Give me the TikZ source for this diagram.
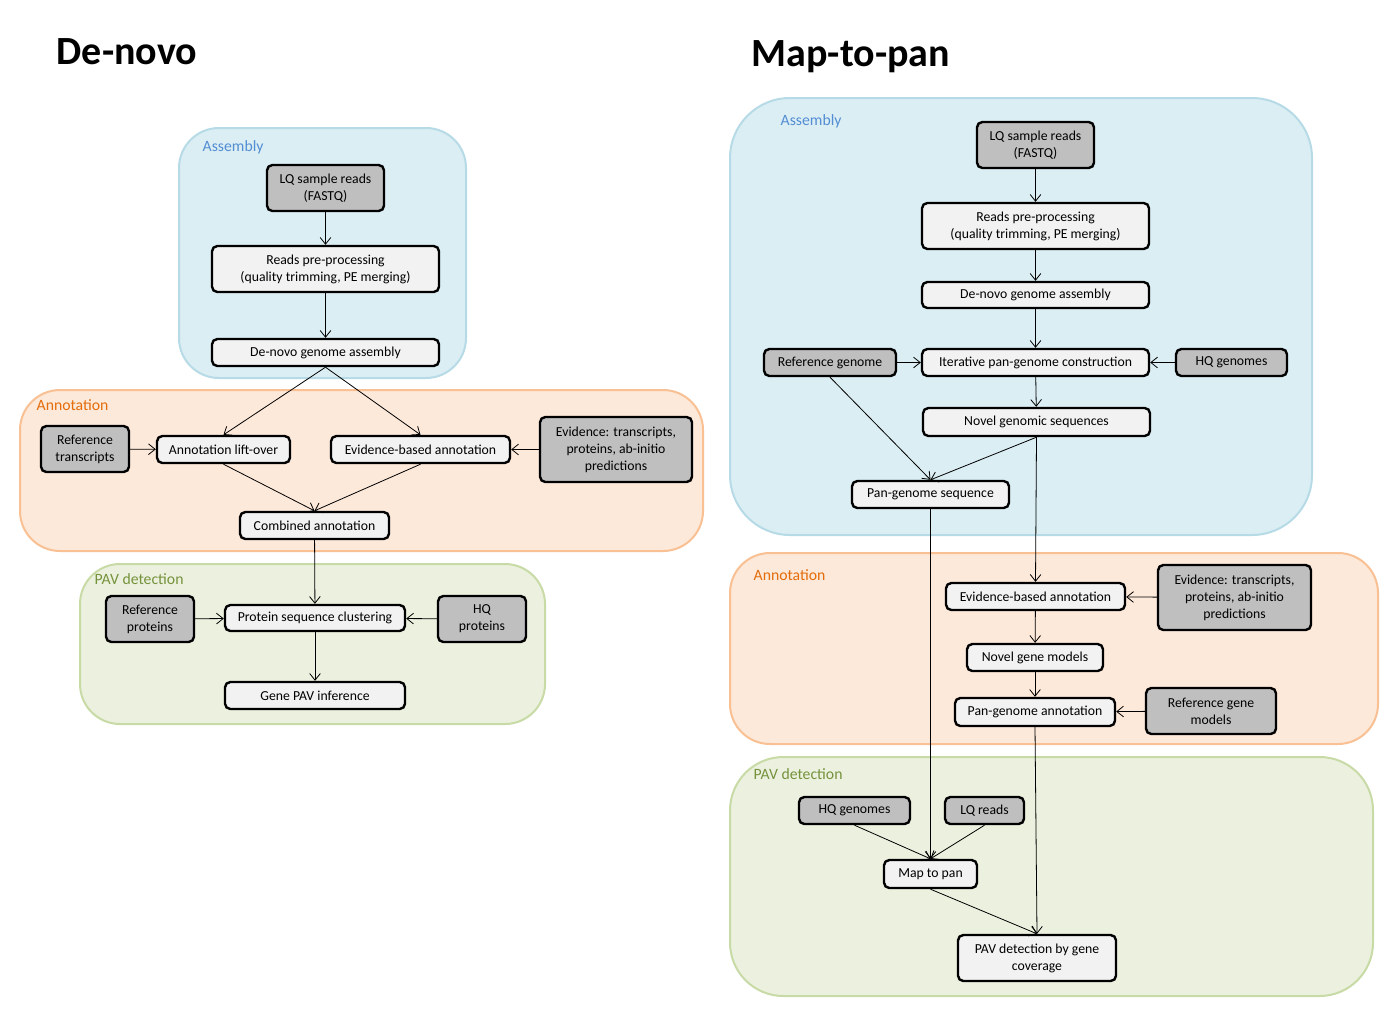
\documentclass[tikz,border=0pt]{standalone}
\usepackage{fontspec}
\setmainfont{Carlito}
\usetikzlibrary{arrows.meta}

\definecolor{asmfill}{RGB}{218,238,243}
\definecolor{asmline}{RGB}{183,219,230}
\definecolor{asmtext}{RGB}{84,141,212}
\definecolor{annfill}{RGB}{253,233,217}
\definecolor{annline}{RGB}{249,192,147}
\definecolor{anntext}{RGB}{228,108,10}
\definecolor{pavfill}{RGB}{235,241,222}
\definecolor{pavline}{RGB}{200,218,165}
\definecolor{pavtext}{RGB}{118,146,60}

\begin{document}
\begin{tikzpicture}[
    x=0.75pt, y=-0.75pt,
    font=\fontsize{10.3}{12.8}\selectfont,
    wh/.style 2 args={
        minimum width=#1*0.75pt,
        minimum height=#2*0.75pt
    },
    stepbox/.style={
        rectangle,
        draw,
        line width=1.8pt,
        rounded corners=4pt,
        fill=black!5,
        align=center,
        inner sep=0pt
    },
    databox/.style={
        stepbox,
        fill=black!25
    },
    group/.style={
        line width=1.5pt,
        rounded corners=30pt
    },
    grouplabel/.style={
        anchor=west,
        font=\fontsize{11.8}{13}\selectfont
    },
    title/.style={
        anchor=base west,
        font=\fontsize{30}{36}\selectfont\bfseries
    },
    arrow/.style={-{Straight Barb[length=5pt,width=8pt]}, line width=0.6pt}
]
\useasboundingbox (0,0) rectangle (1398,1014);

% Titles
\node (tdenovo) [title] at (52,64) {De-novo};
\node (tmappan) [title] at (747,66) {Map-to-pan};

% De-novo groups
\draw [group, draw=asmline, fill=asmfill] (179,128) rectangle (466,378);
\draw [group, draw=annline, fill=annfill] (20,390) rectangle (703,551);
\draw [group, draw=pavline, fill=pavfill] (80,564) rectangle (545,724);
\node (gasmL) [grouplabel, text=asmtext] at (198,147) {Assembly};
\node (gannL) [grouplabel, text=anntext] at (32,405) {Annotation};
\node (gpavL) [grouplabel, text=pavtext] at (90,579) {PAV detection};

% Map-to-pan groups
\draw [group, rounded corners=45pt, draw=asmline, fill=asmfill] (730,98) rectangle (1312,535);
\draw [group, draw=annline, fill=annfill] (730,553) rectangle (1378,744);
\draw [group, rounded corners=40pt, draw=pavline, fill=pavfill] (730,757) rectangle (1373,996);
\node (gasmR) [grouplabel, text=asmtext] at (776,121) {Assembly};
\node (gannR) [grouplabel, text=anntext] at (749,575) {Annotation};
\node (gpavR) [grouplabel, text=pavtext] at (749,774) {PAV detection};

% De-novo: assembly
\node (lqL) [databox, wh={117}{46}] at (325.5,188) {LQ sample reads\\(FASTQ)};
\node (preL) [stepbox, wh={227}{46}] at (325.5,269) {Reads pre-processing\\(quality trimming, PE merging)};
\node (asmL) [stepbox, wh={227}{27}] at (325.5,352.5) {De-novo genome assembly};

% De-novo: annotation
\node (reftr) [databox, wh={88}{46}] at (85,449) {Reference\\transcripts};
\node (lift) [stepbox, wh={133}{27}] at (223.5,449.5) {Annotation lift-over};
\node (evL) [stepbox, wh={179}{27}] at (420.5,449.5) {Evidence-based annotation};
\node (evidL) [databox, wh={152}{65}] at (616,449.5) {Evidence: transcripts,\\proteins, ab-initio\\predictions};
\node (comb) [stepbox, wh={149}{27}] at (314.5,525.5) {Combined annotation};

% De-novo: PAV detection
\node (refprot) [databox, wh={88}{46}] at (150,619) {Reference\\proteins};
\node (clust) [stepbox, wh={180}{26}] at (315,618) {Protein sequence clustering};
\node (hqprot) [databox, wh={88}{46}] at (482,619) {HQ\\proteins};
\node (pavL) [stepbox, wh={180}{27}] at (315,695.5) {Gene PAV inference};

% Map-to-pan: assembly
\node (lqR) [databox, wh={117}{46}] at (1035.5,145) {LQ sample reads\\(FASTQ)};
\node (preR) [stepbox, wh={227}{46}] at (1035.5,226) {Reads pre-processing\\(quality trimming, PE merging)};
\node (asmR) [stepbox, wh={227}{26}] at (1035.5,295) {De-novo genome assembly};
\node (refg) [databox, wh={132}{27}] at (830,362.5) {Reference genome};
\node (iter) [stepbox, wh={227}{27}] at (1035.5,362.5) {Iterative pan-genome construction};
\node (hqg) [databox, wh={111}{27}] at (1231.5,362.5) {HQ genomes};
\node (novel) [stepbox, wh={227}{28}] at (1036.5,422) {Novel genomic sequences};
\node (pans) [stepbox, wh={157}{27}] at (930.5,494.5) {Pan-genome sequence};

% Map-to-pan: annotation
\node (evR) [stepbox, wh={179}{27}] at (1035.5,596.5) {Evidence-based annotation};
\node (evidR) [databox, wh={153}{65}] at (1234.5,597.5) {Evidence: transcripts,\\proteins, ab-initio\\predictions};
\node (ngm) [stepbox, wh={136}{27}] at (1035,657.5) {Novel gene models};
\node (pga) [stepbox, wh={160}{28}] at (1035,712) {Pan-genome annotation};
\node (refgm) [databox, wh={130}{46}] at (1211,711) {Reference gene\\models};

% Map-to-pan: PAV detection
\node (hqg2) [databox, wh={111}{27}] at (854.5,810.5) {HQ genomes};
\node (lqr) [databox, wh={79}{27}] at (984.5,810.5) {LQ reads};
\node (map) [stepbox, wh={93}{28}] at (930.5,874) {Map to pan};
\node (pavR) [stepbox, wh={158}{46}] at (1037,958) {PAV detection by gene\\coverage};

% Connections: de-novo
\draw [arrow] (lqL) -- (preL);
\draw [arrow] (preL) -- (asmL);
\draw [arrow] (asmL.south) -- (lift.north);
\draw [arrow] (asmL.south) -- (evL.north);
\draw [arrow] (reftr) -- (lift);
\draw [arrow] (evidL) -- (evL);
\draw [arrow] (lift.south) -- (comb.north);
\draw [arrow] (evL.south) -- (comb.north);
\draw [arrow] (comb) -- (clust);
\draw [arrow] (refprot) -- (clust);
\draw [arrow] (hqprot) -- (clust);
\draw [arrow] (clust) -- (pavL);

% Connections: map-to-pan
\draw [arrow] (lqR) -- (preR);
\draw [arrow] (preR) -- (asmR);
\draw [arrow] (asmR) -- (iter);
\draw [arrow] (refg) -- (iter);
\draw [arrow] (hqg) -- (iter);
\draw [arrow] (iter) -- (novel);
\draw [arrow] (refg.south) -- (pans.north);
\draw [arrow] (novel.south) -- (pans.north);
\draw [arrow] (novel.south) -- (evR.north);
\draw [arrow] (evidR) -- (evR);
\draw [arrow] (evR) -- (ngm);
\draw [arrow] (ngm) -- (pga);
\draw [arrow] (refgm) -- (pga);
\draw [arrow] (pans.south) -- (map.north);
\draw [arrow] (hqg2.south) -- (map.north);
\draw [arrow] (lqr.south) -- (map.north);
\draw [arrow] (map.south) -- (pavR.north);
\draw [arrow] (pga.south) -- (pavR.north);

\end{tikzpicture}
\end{document}
